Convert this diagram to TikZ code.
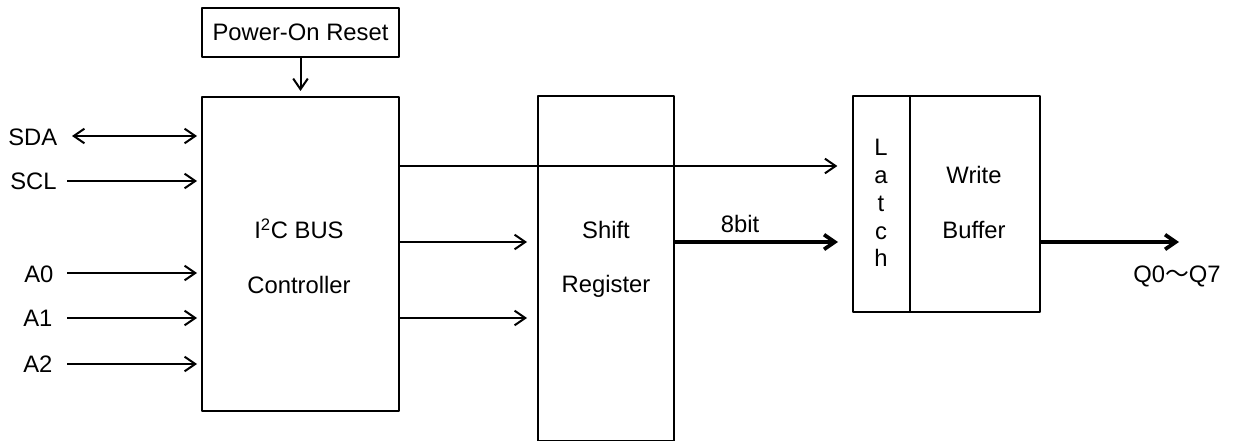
\documentclass[tikz,border=0pt]{standalone}
\usepackage{fontspec}
\setmainfont{Liberation Sans}
\newfontfamily\cjk{Noto Sans CJK JP}
\usetikzlibrary{arrows.meta,calc}

\tikzset{
  blk/.style 2 args={draw, line width=1.5pt, inner sep=0pt, anchor=north west,
    minimum width=#1*0.75pt, minimum height=#2*0.75pt},
  txt/.style={font=\fontsize{17.85}{20.6}\selectfont, inner sep=0pt},
  sig/.style={line width=1.5pt, ->},
  bus/.style={line width=2.8pt, ->},
}

\begin{document}
\begin{tikzpicture}[x=0.75pt, y=-0.75pt, line join=round,
    >={Straight Barb[length=8pt,width=11pt]}]
    \useasboundingbox (0,0) rectangle (1234,441);

    % blocks
    \node[blk={197}{49}, txt] (por) at (201,7) {Power-On Reset};
    \node[blk={197}{314}] (ctrl) at (201,96) {};
    \node[blk={136}{345}] (shift) at (537,95) {};
    \node[blk={57}{216}] (latch) at (852,95) {};
    \node[blk={130}{216}] (buf) at (909,95) {};

    \node[txt, anchor=base] (ctrlA) at (299,239) {I\textsuperscript{2}C BUS};
    \node[txt, anchor=base] (ctrlB) at (299,294) {Controller};
    \node[txt, anchor=base] (shiftA) at (606,239) {Shift};
    \node[txt, anchor=base] (shiftB) at (606,293) {Register};
    \node[txt, anchor=base] (bufA) at (974,184) {Write};
    \node[txt, anchor=base] (bufB) at (974,239) {Buffer};
    \foreach \ch [count=\i] in {L,a,t,c,h}
        \node[txt, anchor=base] (lt\i) at (881,{156+27.7*(\i-1)}) {\ch};

    % inputs
    \node[txt, anchor=base west] (sdaT) at (8,146) {SDA};
    \node[txt, anchor=base west] (sclT) at (10,190) {SCL};
    \node[txt, anchor=base west] (aT0) at (24,283) {A0};
    \node[txt, anchor=base west] (aT1) at (23,327) {A1};
    \node[txt, anchor=base west] (aT2) at (23,373) {A2};

    \coordinate (sda) at (72,136);
    \coordinate (scl) at (67,181);
    \coordinate (a0) at (67,273);
    \coordinate (a1) at (67,318);
    \coordinate (a2) at (67,364);

    \draw[sig, <->, shorten >=3pt] (sda) -- (sda -| ctrl.west);
    \foreach \p in {scl,a0,a1,a2}
        \draw[sig, shorten >=3pt] (\p) -- (\p -| ctrl.west);

    \draw[sig, shorten >=3.75pt] (por.south) -- (por.south |- ctrl.north);

    % controller outputs
    \coordinate (o1) at ($(ctrl.north east)+(0,70)$);
    \coordinate (o2) at ($(ctrl.north east)+(0,146)$);
    \coordinate (o3) at ($(ctrl.north east)+(0,222)$);
    \draw[sig, shorten >=11pt] (o1) -- (o1 -| latch.west);
    \draw[sig, shorten >=7.5pt] (o2) -- (o2 -| shift.west);
    \draw[sig, shorten >=7.5pt] (o3) -- (o3 -| shift.west);

    % data path
    \draw[bus, shorten >=10.5pt] (o2 -| shift.east) -- (o2 -| latch.west);
    \node[txt, anchor=base] (bits) at (740,233) {8bit};

    \coordinate (qout) at (1179,242);
    \draw[bus] (o2 -| buf.east) -- (qout);
    \node[txt, anchor=base] (qT) at (1177,283) {Q0{\cjk ～}Q7};
\end{tikzpicture}
\end{document}
